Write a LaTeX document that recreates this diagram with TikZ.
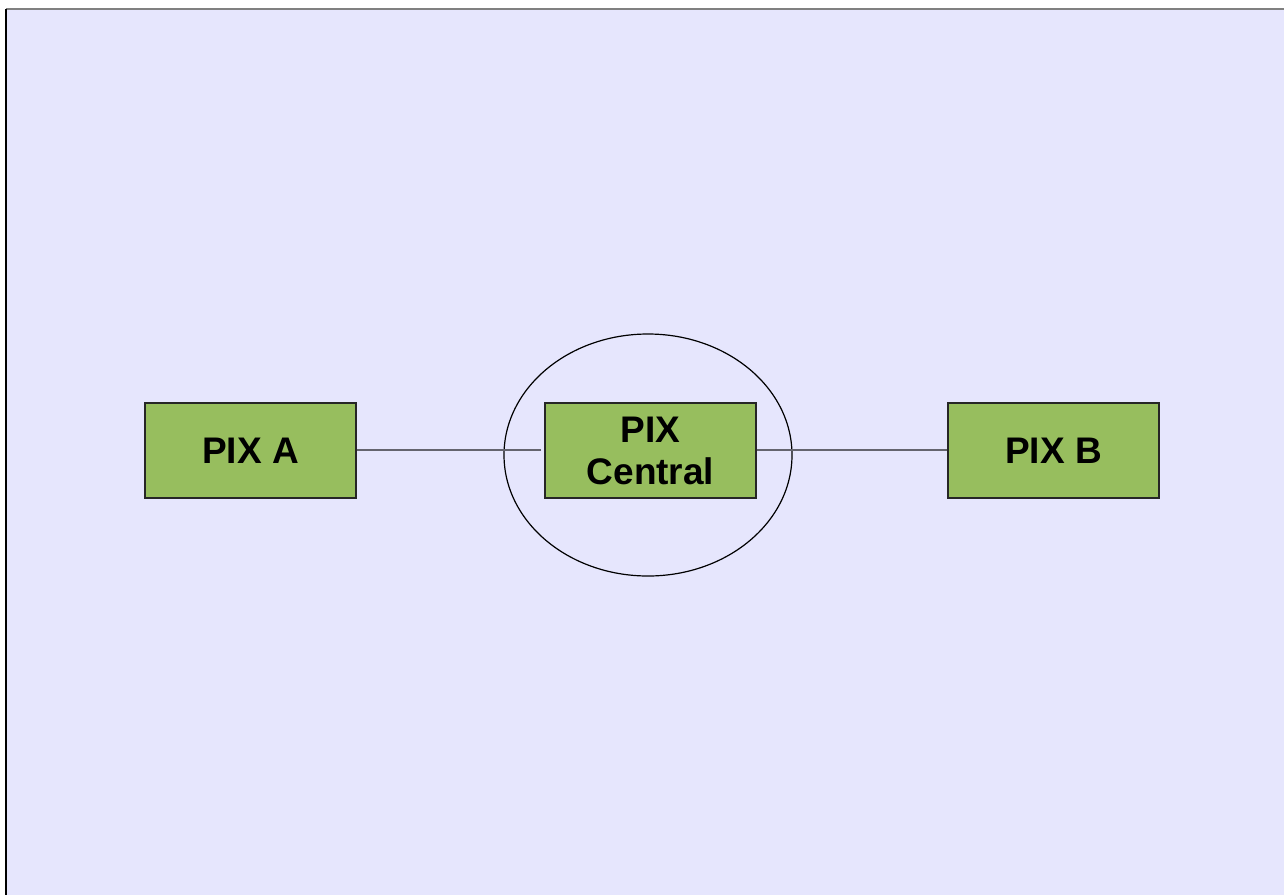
\documentclass[tikz,border=0pt]{standalone}
\usepackage{fontspec}
\setmainfont{Liberation Sans}
\usetikzlibrary{shapes.geometric}
\definecolor{bg}{RGB}{230,230,253}
\definecolor{boxgreen}{RGB}{151,190,94}
\definecolor{linegray}{RGB}{100,100,110}
\tikzset{
  pixbox/.style={draw=black!85, line width=1.2pt, fill=boxgreen, minimum width=211pt, minimum height=95pt, inner sep=0pt, align=center,
    font=\fontsize{37pt}{42pt}\selectfont\bfseries},
  link/.style={draw=linegray, line width=1.4pt}
}
\begin{document}
\begin{tikzpicture}[x=1pt,y=-1pt]
\useasboundingbox (0,0) rectangle (1284,895);
\fill[bg] (6,9) rectangle (1284,895);
\draw[gray, line width=1.5pt] (6,9) -- (1284,9);
\draw[black, line width=1.5pt] (6,9) -- (6,895);
\node[pixbox] (a) at (250.5,450.5) {PIX A};
\node[pixbox] (c) at (650.5,450.5) {PIX\\Central};
\node[pixbox] (b) at (1053.5,450.5) {PIX B};
\node[draw=black, line width=1.2pt, ellipse, minimum width=288pt, minimum height=242pt, inner sep=0pt] (e) at (648,455) {};
\coordinate (cl) at (541,450);
\draw[link] (a.east |- cl) -- (cl);
\draw[link] (c.east |- cl) -- (b.west |- cl);
\end{tikzpicture}
\end{document}
